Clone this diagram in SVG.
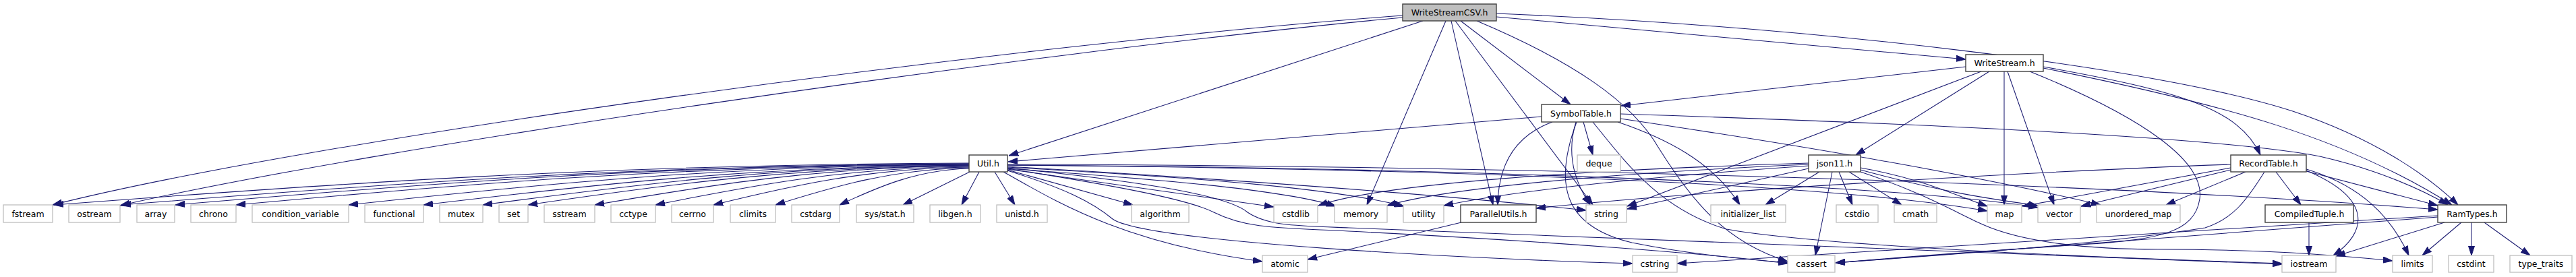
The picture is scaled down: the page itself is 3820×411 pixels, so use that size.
<svg xmlns="http://www.w3.org/2000/svg" width="3820" height="411" viewBox="0 0 3820 411">
<defs>
<style>
.n rect{fill:#ffffff;stroke:#bfbfbf;stroke-width:1.3}
.d rect{fill:#ffffff;stroke:#404040;stroke-width:1.4}
.r rect{fill:#bfbfbf;stroke:#404040;stroke-width:1.4}
text{font-family:"DejaVu Sans","Liberation Sans",sans-serif;font-size:12.5px;fill:#000000;text-anchor:middle}
.e path{fill:none;stroke:#191970;stroke-width:1.05;marker-end:url(#ah)}
</style>
<marker id="ah" viewBox="0 0 14 10" refX="14" refY="5" markerWidth="14" markerHeight="10" markerUnits="userSpaceOnUse" orient="auto">
<path d="M0,0.5 L14,5 L0,9.5 z" fill="#191970" stroke="#191970" stroke-width="1"/>
</marker>
</defs>
<rect width="3820" height="411" fill="#ffffff"/>
<g id="edges" class="e">
<!-- WriteStreamCSV.h -->
<path d="M2080,23 C1450,70 450,210 78,304"/>
<path d="M2080,26 C1500,80 550,220 178,305"/>
<path d="M2110,31 L1496,231"/>
<path d="M2144,31 L2027,304"/>
<path d="M2152,31 L2214,304"/>
<path d="M2158,31 L2362,304"/>
<path d="M2166,31 L2329,155"/>
<path d="M2190,31 C2330,90 2420,150 2460,220 C2510,300 2560,360 2651,388"/>
<path d="M2219,25 L2915,88"/>
<path d="M2219,20 C2700,40 3200,100 3400,165 C3520,205 3600,260 3645,304"/>
<!-- WriteStream.h -->
<path d="M2915,99 L2404,157"/>
<path d="M2938,106 L2413,306"/>
<path d="M2950,106 L2752,230"/>
<path d="M2972,106 L2972,304"/>
<path d="M2977,106 L3046,304"/>
<path d="M3010,106 C3180,175 3270,240 3262,295 C3255,345 3200,355 3100,362 C2950,372 2800,383 2722,390"/>
<path d="M3030,99 C3230,135 3320,160 3352,230"/>
<path d="M3030,101 C3300,155 3480,205 3636,304"/>
<!-- SymbolTable.h -->
<path d="M2286,173 L1495,240"/>
<path d="M2302,181 C2250,200 2222,240 2221,304"/>
<path d="M2337,181 C2322,230 2335,270 2358,304"/>
<path d="M2338,181 C2305,270 2315,335 2420,360 C2520,380 2600,385 2651,390"/>
<path d="M2348,181 L2362,230"/>
<path d="M2362,181 C2410,240 2460,310 2560,340 C2700,365 3100,382 3384,391"/>
<path d="M2399,181 C2470,205 2540,240 2580,304"/>
<path d="M2403,176 C2700,220 2950,265 3115,304"/>
<path d="M2403,169 C2900,185 3300,205 3440,232 C3520,250 3590,280 3630,304"/>
<!-- Util.h left -->
<path d="M1437,242 C894,244 487,273 80,304"/>
<path d="M1437,243 C934,245 557,274 180,304"/>
<path d="M1437,243 C966,245 613,274 260,304"/>
<path d="M1437,244 C1002,246 676,274 350,304"/>
<path d="M1437,244 C1069,246 793,274 517,304"/>
<path d="M1437,245 C1113,247 871,275 628,304"/>
<path d="M1437,245 C1149,247 932,275 716,304"/>
<path d="M1437,246 C1175,248 979,275 783,304"/>
<path d="M1437,246 C1215,248 1049,275 882,304"/>
<path d="M1437,247 C1251,249 1112,276 972,304"/>
<path d="M1437,248 C1285,250 1172,276 1058,304"/>
<path d="M1437,249 C1322,251 1236,277 1150,304"/>
<path d="M1437,250 C1360,252 1303,277 1245,304"/>
<path d="M1440,254 L1339,304"/>
<path d="M1452,255 L1426,304"/>
<path d="M1475,255 L1505,304"/>
<!-- Util.h right -->
<path d="M1494,252 L1680,304"/>
<path d="M1494,251 L1889,307"/>
<path d="M1494,250 C1700,265 1900,280 1981,306"/>
<path d="M1494,248 C1800,265 1980,280 2082,306"/>
<path d="M1494,247 C1800,265 2100,285 2352,312"/>
<path d="M1494,245 C2100,250 2700,270 2947,313"/>
<path d="M1494,245 C2100,248 2800,272 3022,308"/>
<path d="M1494,244 C2200,245 3100,270 3615,311"/>
<path d="M1494,253 C1580,280 1620,300 1650,325 C1700,360 2200,385 2421,391"/>
<path d="M1494,250 C1650,275 1760,295 1800,315 C1850,340 1900,338 2000,343 C2300,358 2550,378 2651,391"/>
<path d="M1494,249 C1700,270 1820,290 1850,315 C1880,335 1920,335 2000,338 C2600,365 3100,380 3384,392"/>
<path d="M1488,255 C1560,295 1660,360 1872,388"/>
<!-- ParallelUtils.h -->
<path d="M2167,330 L1939,385"/>
<!-- json11.h -->
<path d="M2682,242 C2350,252 2050,272 1955,305"/>
<path d="M2682,244 C2400,256 2150,278 2057,305"/>
<path d="M2682,246 C2450,262 2250,282 2141,305"/>
<path d="M2682,250 L2413,310"/>
<path d="M2698,255 L2618,304"/>
<path d="M2717,255 L2692,379"/>
<path d="M2727,255 L2747,304"/>
<path d="M2742,255 L2820,304"/>
<path d="M2759,249 C2850,265 2900,290 2947,306"/>
<path d="M2759,252 C2880,285 2950,295 3022,305"/>
<path d="M2759,255 C2850,285 2900,315 2940,333 C3000,360 3100,370 3200,370 C3350,370 3450,377 3548,387"/>
<!-- RecordTable.h -->
<path d="M3308,244 C3000,255 2500,285 2278,309"/>
<path d="M3308,249 L2999,306"/>
<path d="M3308,252 L3086,306"/>
<path d="M3330,255 L3212,304"/>
<path d="M3358,255 C3330,300 3310,325 3270,338 C3100,365 2850,380 2722,390"/>
<path d="M3375,255 L3412,304"/>
<path d="M3420,254 L3615,305"/>
<path d="M3420,253 C3520,295 3510,345 3460,379"/>
<path d="M3420,251 C3500,275 3545,320 3572,379"/>
<!-- CompiledTuple.h -->
<path d="M3424,330 L3424,379"/>
<!-- RamTypes.h -->
<path d="M3615,322 L2722,390"/>
<path d="M3615,320 L2487,391"/>
<path d="M3625,330 L3464,380"/>
<path d="M3650,330 L3592,379"/>
<path d="M3665,330 L3665,379"/>
<path d="M3684,330 L3752,379"/>
</g>
<g id="WriteStreamCSV_h" class="r"><rect x="2080" y="6" width="139" height="25"/><text x="2149.5" y="23">WriteStreamCSV.h</text></g>
<g id="WriteStream_h" class="d"><rect x="2915" y="81" width="115" height="25"/><text x="2972.5" y="98">WriteStream.h</text></g>
<g id="SymbolTable_h" class="d"><rect x="2286" y="155" width="117" height="26"/><text x="2344.5" y="172.5">SymbolTable.h</text></g>
<g id="Util_h" class="d"><rect x="1437" y="230" width="57" height="25"/><text x="1465.5" y="247">Util.h</text></g>
<g id="deque" class="n"><rect x="2339" y="230" width="64" height="25"/><text x="2371" y="247">deque</text></g>
<g id="json11_h" class="d"><rect x="2682" y="230" width="77" height="25"/><text x="2720.5" y="247">json11.h</text></g>
<g id="RecordTable_h" class="d"><rect x="3308" y="230" width="112" height="25"/><text x="3364" y="247">RecordTable.h</text></g>
<g id="fstream" class="n"><rect x="5" y="304" width="73" height="26"/><text x="41.5" y="321.5">fstream</text></g>
<g id="ostream" class="n"><rect x="102" y="304" width="76" height="26"/><text x="140" y="321.5">ostream</text></g>
<g id="array" class="n"><rect x="203" y="304" width="56" height="26"/><text x="231" y="321.5">array</text></g>
<g id="chrono" class="n"><rect x="283" y="304" width="67" height="26"/><text x="316.5" y="321.5">chrono</text></g>
<g id="condition_variable" class="n"><rect x="374" y="304" width="143" height="26"/><text x="445.5" y="321.5">condition_variable</text></g>
<g id="functional" class="n"><rect x="541" y="304" width="87" height="26"/><text x="584.5" y="321.5">functional</text></g>
<g id="mutex" class="n"><rect x="652" y="304" width="64" height="26"/><text x="684" y="321.5">mutex</text></g>
<g id="set" class="n"><rect x="740" y="304" width="43" height="26"/><text x="761.5" y="321.5">set</text></g>
<g id="sstream" class="n"><rect x="807" y="304" width="75" height="26"/><text x="844.5" y="321.5">sstream</text></g>
<g id="cctype" class="n"><rect x="906" y="304" width="66" height="26"/><text x="939" y="321.5">cctype</text></g>
<g id="cerrno" class="n"><rect x="996" y="304" width="62" height="26"/><text x="1027" y="321.5">cerrno</text></g>
<g id="climits" class="n"><rect x="1083" y="304" width="67" height="26"/><text x="1116.5" y="321.5">climits</text></g>
<g id="cstdarg" class="n"><rect x="1174" y="304" width="71" height="26"/><text x="1209.5" y="321.5">cstdarg</text></g>
<g id="sys_stat_h" class="n"><rect x="1270" y="304" width="85" height="26"/><text x="1312.5" y="321.5">sys/stat.h</text></g>
<g id="libgen_h" class="n"><rect x="1379" y="304" width="75" height="26"/><text x="1416.5" y="321.5">libgen.h</text></g>
<g id="unistd_h" class="n"><rect x="1478" y="304" width="75" height="26"/><text x="1515.5" y="321.5">unistd.h</text></g>
<g id="algorithm" class="n"><rect x="1678" y="304" width="85" height="26"/><text x="1720.5" y="321.5">algorithm</text></g>
<g id="cstdlib" class="n"><rect x="1889" y="304" width="65" height="26"/><text x="1921.5" y="321.5">cstdlib</text></g>
<g id="memory" class="n"><rect x="1979" y="304" width="78" height="26"/><text x="2018" y="321.5">memory</text></g>
<g id="utility" class="n"><rect x="2081" y="304" width="60" height="26"/><text x="2111" y="321.5">utility</text></g>
<g id="ParallelUtils_h" class="d"><rect x="2166" y="304" width="112" height="26"/><text x="2222" y="321.5">ParallelUtils.h</text></g>
<g id="string" class="n"><rect x="2352" y="304" width="60" height="26"/><text x="2382" y="321.5">string</text></g>
<g id="initializer_list" class="n"><rect x="2537" y="304" width="111" height="26"/><text x="2592.5" y="321.5">initializer_list</text></g>
<g id="cstdio" class="n"><rect x="2723" y="304" width="62" height="26"/><text x="2754" y="321.5">cstdio</text></g>
<g id="cmath" class="n"><rect x="2809" y="304" width="63" height="26"/><text x="2840.5" y="321.5">cmath</text></g>
<g id="map" class="n"><rect x="2947" y="304" width="51" height="26"/><text x="2972.5" y="321.5">map</text></g>
<g id="vector" class="n"><rect x="3022" y="304" width="63" height="26"/><text x="3053.5" y="321.5">vector</text></g>
<g id="unordered_map" class="n"><rect x="3109" y="304" width="124" height="26"/><text x="3171" y="321.5">unordered_map</text></g>
<g id="CompiledTuple_h" class="d"><rect x="3359" y="304" width="131" height="26"/><text x="3424.5" y="321.5">CompiledTuple.h</text></g>
<g id="RamTypes_h" class="d"><rect x="3615" y="304" width="102" height="26"/><text x="3666" y="321.5">RamTypes.h</text></g>
<g id="atomic" class="n"><rect x="1872" y="379" width="67" height="25"/><text x="1905.5" y="396">atomic</text></g>
<g id="cstring" class="n"><rect x="2421" y="379" width="66" height="25"/><text x="2454" y="396">cstring</text></g>
<g id="cassert" class="n"><rect x="2651" y="379" width="70" height="25"/><text x="2686" y="396">cassert</text></g>
<g id="iostream" class="n"><rect x="3384" y="379" width="80" height="25"/><text x="3424" y="396">iostream</text></g>
<g id="limits" class="n"><rect x="3548" y="379" width="59" height="25"/><text x="3577.5" y="396">limits</text></g>
<g id="cstdint" class="n"><rect x="3631" y="379" width="67" height="25"/><text x="3664.5" y="396">cstdint</text></g>
<g id="type_traits" class="n"><rect x="3722" y="379" width="92" height="25"/><text x="3768" y="396">type_traits</text></g>
</svg>
